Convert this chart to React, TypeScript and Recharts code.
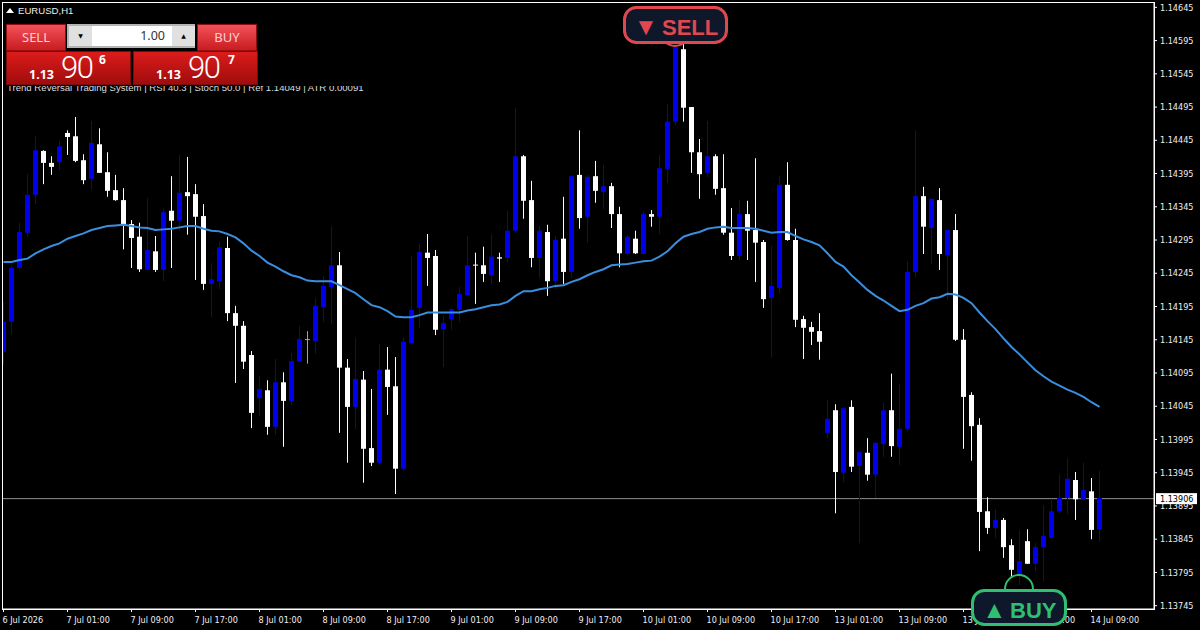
import React from 'react';
import { ComposedChart, Bar, Line, XAxis, YAxis, ReferenceLine } from 'recharts';

const opens = [
  1.14127, 1.14172, 1.14253, 1.14306, 1.14363, 1.14429, 1.14411, 1.14412, 1.14456, 1.14451,
  1.14415, 1.14387, 1.14439, 1.14397, 1.14370, 1.14355, 1.14319, 1.14300, 1.14250, 1.14278,
  1.14250, 1.14339, 1.14324, 1.14367, 1.14364, 1.14331, 1.14229, 1.14233, 1.14283, 1.14185,
  1.14166, 1.14122, 1.14057, 1.14069, 1.14014, 1.14081, 1.14053, 1.14112, 1.14146, 1.14143,
  1.14194, 1.14224, 1.14257, 1.14103, 1.14044, 1.14085, 1.13982, 1.13960, 1.14100, 1.14075,
  1.13951, 1.14140, 1.14193, 1.14276, 1.14271, 1.14161, 1.14176, 1.14190, 1.14212, 1.14258,
  1.14257, 1.14242, 1.14269, 1.14268, 1.14309, 1.14421, 1.14355, 1.14268, 1.14307, 1.14233,
  1.14297, 1.14247, 1.14393, 1.14330, 1.14391, 1.14367, 1.14376, 1.14334, 1.14274, 1.14297,
  1.14274, 1.14334, 1.14330, 1.14402, 1.14473, 1.14582, 1.14495, 1.14427, 1.14396, 1.14421,
  1.14373, 1.14306, 1.14271, 1.14334, 1.14310, 1.14292, 1.14208, 1.14223, 1.14378, 1.14295,
  1.14176, 1.14164, 1.14158, 1.14005, 1.14039, 1.13945, 1.14044, 1.13955, 1.13975, 1.13942,
  1.13988, 1.14039, 1.13984, 1.14011, 1.14247, 1.14361, 1.14313, 1.14355, 1.14272, 1.14310,
  1.14145, 1.14062, 1.14017, 1.13887, 1.13862, 1.13874, 1.13836, 1.13791, 1.13842, 1.13808,
  1.13833, 1.13847, 1.13887, 1.13907, 1.13934, 1.13904, 1.13917, 1.13860,
];

const highs = [
  1.14202, 1.14257, 1.14321, 1.14394, 1.14451, 1.14430, 1.14421, 1.14444, 1.14460, 1.14480,
  1.14424, 1.14474, 1.14463, 1.14427, 1.14393, 1.14373, 1.14325, 1.14321, 1.14358, 1.14301,
  1.14342, 1.14391, 1.14423, 1.14420, 1.14379, 1.14349, 1.14260, 1.14293, 1.14300, 1.14196,
  1.14173, 1.14128, 1.14090, 1.14084, 1.14116, 1.14096, 1.14125, 1.14166, 1.14158, 1.14208,
  1.14241, 1.14316, 1.14277, 1.14116, 1.14148, 1.14098, 1.14071, 1.14139, 1.14134, 1.14119,
  1.14149, 1.14271, 1.14289, 1.14304, 1.14280, 1.14182, 1.14193, 1.14224, 1.14301, 1.14276,
  1.14285, 1.14304, 1.14276, 1.14339, 1.14494, 1.14423, 1.14384, 1.14316, 1.14318, 1.14301,
  1.14360, 1.14391, 1.14460, 1.14393, 1.14414, 1.14408, 1.14381, 1.14345, 1.14303, 1.14309,
  1.14337, 1.14340, 1.14423, 1.14500, 1.14591, 1.14590, 1.14495, 1.14447, 1.14474, 1.14424,
  1.14424, 1.14343, 1.14355, 1.14354, 1.14418, 1.14295, 1.14286, 1.14391, 1.14412, 1.14312,
  1.14181, 1.14172, 1.14185, 1.14054, 1.14048, 1.14042, 1.14054, 1.13976, 1.13997, 1.13990,
  1.14051, 1.14094, 1.14078, 1.14263, 1.14460, 1.14375, 1.14357, 1.14373, 1.14310, 1.14334,
  1.14161, 1.14066, 1.14027, 1.13908, 1.13890, 1.13877, 1.13845, 1.13859, 1.13860, 1.13839,
  1.13896, 1.13906, 1.13943, 1.13967, 1.13946, 1.13960, 1.13937, 1.13948,
];

const lows = [
  1.14107, 1.14153, 1.14250, 1.14300, 1.14349, 1.14379, 1.14393, 1.14400, 1.14423, 1.14412,
  1.14379, 1.14370, 1.14396, 1.14360, 1.14354, 1.14281, 1.14253, 1.14247, 1.14250, 1.14247,
  1.14233, 1.14253, 1.14309, 1.14303, 1.14235, 1.14220, 1.14179, 1.14221, 1.14173, 1.14080,
  1.14101, 1.14012, 1.14030, 1.14002, 1.14002, 1.13984, 1.14047, 1.14112, 1.14109, 1.14124,
  1.14172, 1.14169, 1.14005, 1.13960, 1.14011, 1.13930, 1.13955, 1.13957, 1.14032, 1.13913,
  1.13948, 1.14140, 1.14163, 1.14226, 1.14152, 1.14104, 1.14160, 1.14172, 1.14212, 1.14199,
  1.14232, 1.14229, 1.14232, 1.14262, 1.14307, 1.14327, 1.14254, 1.14238, 1.14211, 1.14221,
  1.14229, 1.14238, 1.14312, 1.14291, 1.14351, 1.14342, 1.14313, 1.14254, 1.14272, 1.14274,
  1.14273, 1.14315, 1.14304, 1.14381, 1.14468, 1.14473, 1.14396, 1.14357, 1.14390, 1.14363,
  1.14303, 1.14265, 1.14265, 1.14265, 1.14232, 1.14193, 1.14118, 1.14214, 1.14294, 1.14164,
  1.14116, 1.14137, 1.14115, 1.13997, 1.13884, 1.13931, 1.13946, 1.13839, 1.13933, 1.13907,
  1.13969, 1.13969, 1.13957, 1.14008, 1.14239, 1.14274, 1.14259, 1.14250, 1.14205, 1.14143,
  1.13981, 1.13963, 1.13827, 1.13853, 1.13847, 1.13817, 1.13789, 1.13776, 1.13808, 1.13797,
  1.13781, 1.13845, 1.13884, 1.13883, 1.13874, 1.13904, 1.13845, 1.13841,
];

const closes = [
  1.14172, 1.14253, 1.14307, 1.14363, 1.14430, 1.14411, 1.14405, 1.14436, 1.14450, 1.14414,
  1.14385, 1.14441, 1.14396, 1.14369, 1.14355, 1.14318, 1.14298, 1.14251, 1.14280, 1.14250,
  1.14337, 1.14324, 1.14366, 1.14361, 1.14330, 1.14229, 1.14236, 1.14284, 1.14185, 1.14166,
  1.14112, 1.14035, 1.14071, 1.14014, 1.14081, 1.14053, 1.14113, 1.14146, 1.14146, 1.14196,
  1.14226, 1.14257, 1.14103, 1.14044, 1.14086, 1.13981, 1.13960, 1.14100, 1.14074, 1.13951,
  1.14142, 1.14190, 1.14277, 1.14268, 1.14160, 1.14170, 1.14191, 1.14214, 1.14257, 1.14257,
  1.14244, 1.14270, 1.14267, 1.14309, 1.14421, 1.14354, 1.14268, 1.14309, 1.14233, 1.14295,
  1.14247, 1.14391, 1.14328, 1.14390, 1.14369, 1.14376, 1.14334, 1.14275, 1.14300, 1.14275,
  1.14334, 1.14330, 1.14403, 1.14473, 1.14585, 1.14494, 1.14427, 1.14394, 1.14421, 1.14372,
  1.14306, 1.14271, 1.14334, 1.14309, 1.14291, 1.14206, 1.14226, 1.14378, 1.14295, 1.14175,
  1.14163, 1.14157, 1.14142, 1.14026, 1.13946, 1.14042, 1.13954, 1.13976, 1.13942, 1.13990,
  1.14039, 1.13985, 1.14011, 1.14247, 1.14361, 1.14315, 1.14357, 1.14274, 1.14310, 1.14145,
  1.14059, 1.14015, 1.13886, 1.13862, 1.13874, 1.13833, 1.13799, 1.13812, 1.13808, 1.13833,
  1.13850, 1.13887, 1.13907, 1.13936, 1.13905, 1.13919, 1.13859, 1.13907,
];

const maValues = [
  1.14262, 1.14262, 1.14265, 1.14267, 1.14275, 1.14281, 1.14286, 1.14290, 1.14297, 1.14301,
  1.14305, 1.14310, 1.14313, 1.14316, 1.14317, 1.14318, 1.14316, 1.14314, 1.14313, 1.14310,
  1.14311, 1.14312, 1.14314, 1.14316, 1.14316, 1.14312, 1.14309, 1.14308, 1.14304, 1.14299,
  1.14290, 1.14279, 1.14271, 1.14261, 1.14255, 1.14248, 1.14242, 1.14239, 1.14234, 1.14233,
  1.14233, 1.14233, 1.14227, 1.14221, 1.14215, 1.14206, 1.14197, 1.14194, 1.14188, 1.14180,
  1.14179, 1.14179, 1.14182, 1.14186, 1.14186, 1.14186, 1.14186, 1.14186, 1.14189, 1.14191,
  1.14194, 1.14197, 1.14198, 1.14202, 1.14211, 1.14218, 1.14218, 1.14221, 1.14223, 1.14226,
  1.14227, 1.14232, 1.14236, 1.14242, 1.14247, 1.14251, 1.14257, 1.14258, 1.14259, 1.14261,
  1.14263, 1.14264, 1.14270, 1.14278, 1.14290, 1.14300, 1.14304, 1.14307, 1.14312, 1.14314,
  1.14315, 1.14313, 1.14313, 1.14313, 1.14312, 1.14309, 1.14306, 1.14307, 1.14307, 1.14301,
  1.14296, 1.14292, 1.14287, 1.14275, 1.14262, 1.14255, 1.14242, 1.14231, 1.14220, 1.14211,
  1.14204, 1.14196, 1.14188, 1.14190, 1.14196, 1.14200, 1.14207, 1.14209, 1.14214, 1.14213,
  1.14208, 1.14200, 1.14186, 1.14173, 1.14161, 1.14147, 1.14134, 1.14123, 1.14111, 1.14099,
  1.14090, 1.14082, 1.14076, 1.14070, 1.14065, 1.14059, 1.14051, 1.14044,
];

const timeLabels = [
  '6 Jul 2026', '7 Jul 01:00', '7 Jul 09:00', '7 Jul 17:00', '8 Jul 01:00', '8 Jul 09:00',
  '8 Jul 17:00', '9 Jul 01:00', '9 Jul 09:00', '9 Jul 17:00', '10 Jul 01:00', '10 Jul 09:00',
  '10 Jul 17:00', '13 Jul 01:00', '13 Jul 09:00', '13 Jul 17:00', '14 Jul 01:00', '14 Jul 09:00',
];
const timeTicks = [0, 8, 16, 24, 32, 40, 48, 56, 64, 72, 80, 88, 96, 104, 112, 120, 128, 136];

const priceTicks = [
  1.14645, 1.14595, 1.14545, 1.14495, 1.14445, 1.14395, 1.14345, 1.14295, 1.14245, 1.14195,
  1.14145, 1.14095, 1.14045, 1.13995, 1.13945, 1.13895, 1.13845, 1.13795, 1.13745,
];

const BID = 1.13906;
const STATUS = 'Trend Reversal Trading System | RSI 40.3 | Stoch 50.0 | Ref 1.14049 | ATR 0.00091';

const rows = opens.map((open, i) => ({
  bar: i,
  open,
  high: highs[i],
  low: lows[i],
  close: closes[i],
  ma: maValues[i],
}));

const UI_FONT = '"Liberation Sans", "DejaVu Sans", sans-serif';
const AXIS_FONT = '"DejaVu Sans Condensed", "Liberation Sans", sans-serif';

// wick + body from the [low, high] bar the library lays out
const Candle = (props: any) => {
  const { x, y, width, height, payload } = props;
  const { open, high, low, close } = payload;
  const perUnit = height / (high - low);
  const top = y + (high - Math.max(open, close)) * perUnit;
  const bodyH = Math.max(Math.abs(open - close) * perUnit, 1);
  const left = Math.round(x);
  const up = close > open;
  const flat = close === open;
  const body = flat ? '#66cc66' : up ? '#0000ee' : '#ffffff';
  const wick = flat ? '#66cc66' : up ? '#0606a8' : '#ffffff';
  return (
    <g>
      <rect x={left + 2} y={y} width={1} height={height} fill={wick} />
      <rect x={left} y={top} width={width} height={bodyH} fill={body} />
    </g>
  );
};

const TimeTick = (props: any) => {
  const { x, y, payload } = props;
  return (
    <text x={x - 1} y={y + 9} fill="#f0f0f0" fontSize={9} fontFamily={AXIS_FONT} textAnchor="start">
      {timeLabels[payload.value / 8]}
    </text>
  );
};

const BidLabel = (props: any) => {
  const { viewBox } = props;
  const y = viewBox.y;
  return (
    <g>
      <rect x={1156} y={y - 5.5} width={41} height={11} fill="#ffffff" />
      <text x={1160} y={y + 3} fill="#000000" fontSize={9} fontFamily={AXIS_FONT}>
        {BID.toFixed(5)}
      </text>
    </g>
  );
};

const btnRed = 'linear-gradient(#f4525a, #c81c20)';
const priceRed = 'linear-gradient(#dc1c1c, #a00c0c)';

const box = (left: number, top: number, width: number, height: number): React.CSSProperties => ({
  position: 'absolute',
  left,
  top,
  width,
  height,
  boxSizing: 'border-box',
});

const TradeButton = ({ left, label }: { left: number; label: string }) => (
  <div
    style={{
      ...box(left, 24, 60, 27),
      background: btnRed,
      border: '1px solid #8c1010',
      color: '#fbd0d0',
      fontSize: 13,
      textAlign: 'center',
      lineHeight: '24px',
      fontFamily: '"Noto Sans", sans-serif',
    }}
  >
    {label}
    <div style={{ ...box(3, 25, 52, 1), background: '#9c1010' }} />
  </div>
);

const PriceBox = ({ left, digit, digitLeft }: { left: number; digit: string; digitLeft: number }) => (
  <div
    style={{
      ...box(left, 51, 125, 34),
      background: priceRed,
      border: '1px solid #7c0c0c',
      color: '#ffffff',
      fontFamily: '"Noto Sans", sans-serif',
    }}
  >
    <span style={{ ...box(22, 15, 30, 16), fontSize: 12.5, fontWeight: 700, lineHeight: '16px' }}>1.13</span>
    <span style={{ ...box(54, -3, 40, 38), fontSize: 31, fontWeight: 300, letterSpacing: -1.5, lineHeight: '38px', fontFamily: 'Roboto' }}>90</span>
    <span style={{ ...box(digitLeft, 0, 12, 16), fontSize: 12, fontWeight: 700, lineHeight: '16px' }}>{digit}</span>
  </div>
);

const TradePanel = () => (
  <>
    <div style={{ ...box(7, 86, 400, 8), overflow: 'hidden' }}>
      <div style={{ color: '#dcdcdc', fontSize: 9.6, lineHeight: '12px', marginTop: -4, fontFamily: UI_FONT, whiteSpace: 'nowrap' }}>
        {STATUS}
      </div>
    </div>
    <div style={{ ...box(6, 8, 8, 5), background: '#ffffff', clipPath: 'polygon(50% 0, 100% 100%, 0 100%)' }} />
    <div style={{ ...box(18, 5, 70, 12), color: '#ececec', fontSize: 9.6, lineHeight: '12px', fontFamily: UI_FONT }}>
      EURUSD,H1
    </div>
    <TradeButton left={6} label="SELL" />
    <TradeButton left={197} label="BUY" />
    <div style={{ ...box(67, 24, 128, 24), background: '#ffffff', border: '2px solid #b4b4b4' }}>
      <div style={{ ...box(0, 0, 23, 20), background: '#e0e0e0', color: '#000', fontSize: 6, textAlign: 'center', lineHeight: '20px', fontFamily: '"DejaVu Sans"' }}>
        ▼
      </div>
      <div style={{ ...box(103, 0, 23, 20), background: '#e0e0e0', color: '#000', fontSize: 6, textAlign: 'center', lineHeight: '20px', fontFamily: '"DejaVu Sans"' }}>
        ▲
      </div>
      <div style={{ ...box(28, 0, 68, 20), color: '#333', fontSize: 12.5, textAlign: 'right', lineHeight: '20px', fontFamily: '"Noto Sans", sans-serif' }}>
        1.00
      </div>
    </div>
    <PriceBox left={6} digit="6" digitLeft={92} />
    <PriceBox left={133} digit="7" digitLeft={94} />
  </>
);

const Signals = () => (
  <svg width={1200} height={630} style={{ position: 'absolute', left: 0, top: 0 }}>
    <rect x={2.5} y={2.5} width={1152} height={607} fill="none" stroke="#ffffff" />
    <circle cx={675} cy={32} r={14} fill="none" stroke="#e0474f" strokeWidth={2} />
    <rect x={624.5} y={7.5} width={102} height={35} rx={12} fill="#0f172a" stroke="#e0474f" strokeWidth={3} />
    <text y={35} fill="#e0474f" fontSize={22} fontWeight={700} fontFamily={UI_FONT}>
      <tspan x={634} fontSize={24}>▼</tspan>
      <tspan x={662}>SELL</tspan>
    </text>
    <circle cx={1019} cy={589} r={14} fill="none" stroke="#2fbf71" strokeWidth={2} />
    <rect x={972.5} y={590.5} width={93} height={34} rx={12} fill="#0f172a" stroke="#2fbf71" strokeWidth={3} />
    <text y={618} fill="#2fbf71" fontSize={22} fontWeight={700} fontFamily={UI_FONT}>
      <tspan x={982.5} fontSize={24}>▲</tspan>
      <tspan x={1010}>BUY</tspan>
    </text>
  </svg>
);

export default function App() {
  return (
    <div style={{ position: 'fixed', left: 0, top: 0, width: 1200, height: 630, background: '#000000', overflow: 'hidden' }}>
      <ComposedChart width={1200} height={630} data={rows} margin={{ top: 3, left: 3, right: 0, bottom: 0 }}>
        <XAxis
          dataKey="bar"
          type="number"
          domain={[-0.0625, 143.8125]}
          allowDataOverflow
          ticks={timeTicks}
          interval={0}
          height={21}
          stroke="#ffffff"
          tickSize={3}
          tick={<TimeTick />}
        />
        <YAxis
          orientation="right"
          domain={[1.1374, 1.146515]}
          allowDataOverflow
          ticks={priceTicks}
          interval={0}
          width={46}
          stroke="#ffffff"
          tickSize={3}
          tickMargin={3}
          tick={{ fill: '#f0f0f0', fontSize: 9, fontFamily: AXIS_FONT }}
          tickFormatter={(v: number) => v.toFixed(5)}
        />
        <ReferenceLine y={BID} stroke="#909090" zIndex={100} />
        <ReferenceLine y={BID} stroke="none" label={<BidLabel />} />
        <Bar dataKey={(d: any) => [d.low, d.high]} barSize={5} shape={<Candle />} isAnimationActive={false} />
        <Line dataKey="ma" stroke="#3a8ee0" strokeWidth={2} dot={false} isAnimationActive={false} />
      </ComposedChart>
      <TradePanel />
      <Signals />
    </div>
  );
}
